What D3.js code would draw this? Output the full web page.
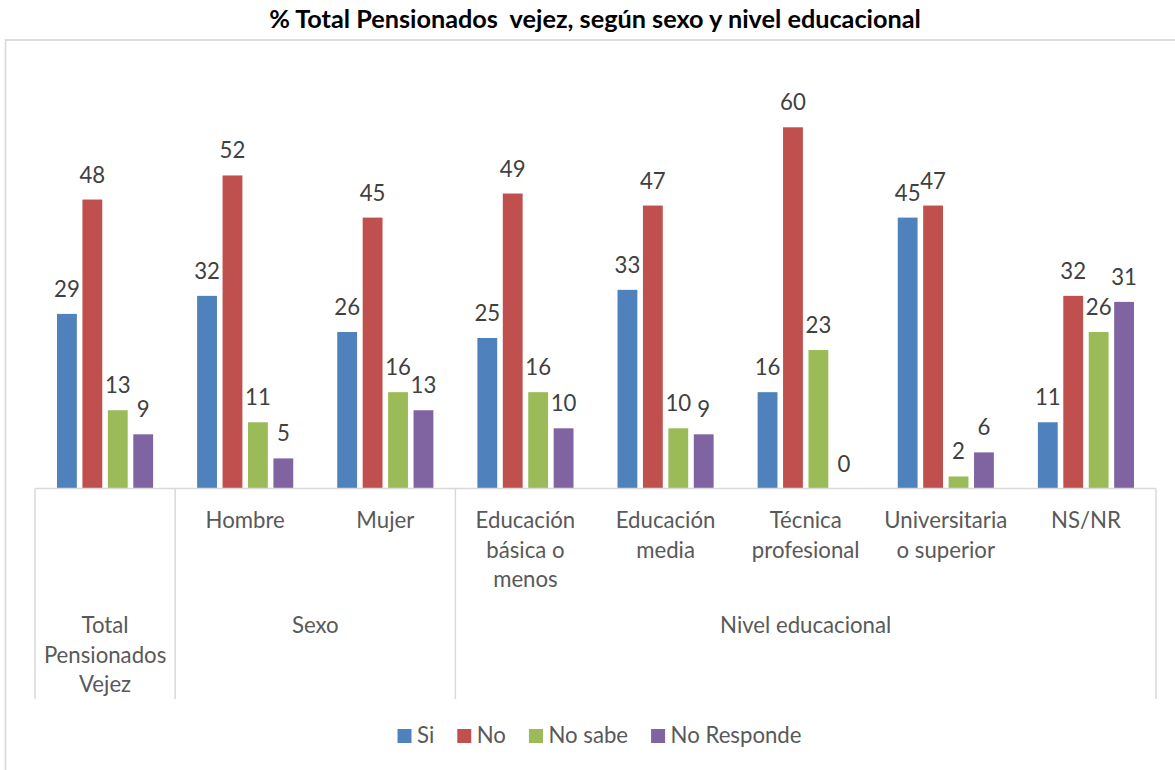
<!DOCTYPE html>
<html>
<head>
<meta charset="utf-8">
<script src="https://cdn.jsdelivr.net/npm/d3@7"></script>
<style>
  html, body { margin: 0; padding: 0; background: #fff; }
  svg { display: block; }
  text { font-family: Lato, "Open Sans", "Liberation Sans", sans-serif; }
</style>
</head>
<body>
<svg id="chart" width="1175" height="770"></svg>
<script>
// ---- data ----
const categories = ["Total Pensionados Vejez", "Hombre", "Mujer", "Educación básica o menos",
  "Educación media", "Técnica profesional", "Universitaria o superior", "NS/NR"];
const categoryLines = [[], ["Hombre"], ["Mujer"], ["Educación", "básica o", "menos"],
  ["Educación", "media"], ["Técnica", "profesional"], ["Universitaria", "o superior"], ["NS/NR"]];
const groupNames = [["Total", "Pensionados", "Vejez"], ["Sexo"], ["Nivel educacional"]];
const groupFirst = [0, 1, 3];
const groupLast = [0, 2, 7];
const seriesNames = ["Si", "No", "No sabe", "No Responde"];
const seriesColors = ["#4F81BD", "#C0504D", "#9BBB59", "#8064A2"];
const si = [29, 32, 26, 25, 33, 16, 45, 11];
const no = [48, 52, 45, 49, 47, 60, 47, 32];
const noSabe = [13, 11, 16, 16, 10, 23, 2, 26];
const noResponde = [9, 5, 13, 10, 9, 0, 6, 31];
const seriesValues = [si, no, noSabe, noResponde];
const title = "% Total Pensionados  vejez, según sexo y nivel educacional";

// ---- layout ----
const svg = d3.select("#chart");
const plotLeft = 35, plotRight = 1156, baseY = 488.5, axisBottom = 699;
const labelColor = "#595959", valueColor = "#404040", gridColor = "#D9D9D9";

// font size fitted to Calibri-like widths
function fitSize(str, targetW, weight) {
  const t = svg.append("text").attr("font-size", 100).attr("font-weight", weight || "normal").text(str);
  const w = t.node().getComputedTextLength();
  t.remove();
  return 100 * targetW / w;
}
const fs = fitSize("Universitaria", 123);
const titleFs = fitSize(title, 646, "bold");

// outer frame (cropped at right & bottom)
svg.append("rect").attr("x", 5.5).attr("y", 40).attr("width", 1200).attr("height", 800)
  .attr("fill", "none").attr("stroke", gridColor).attr("stroke-width", 1.7);

// title
svg.append("text").attr("x", 595).attr("y", 27.5).attr("text-anchor", "middle")
  .attr("font-weight", "bold").attr("font-size", titleFs).attr("fill", "#000")
  .style("white-space", "pre").attr("xml:space", "preserve").text(title);

const x0 = d3.scaleBand().domain(categories).range([plotLeft, plotRight]).padding(0);
const bw = x0.bandwidth();
const x1 = d3.scaleBand().domain(seriesNames).range([0.157 * bw, 0.843 * bw]).paddingInner(0.22);
const y = d3.scaleLinear().domain([0, 60]).range([baseY, 127.3]);

// bars
seriesNames.forEach((s, si_) => {
  const g = svg.append("g");
  const vals = seriesValues[si_];
  g.selectAll("rect").data(categories).join("rect")
    .attr("x", c => x0(c) + x1(s))
    .attr("y", (c, i) => y(vals[i]))
    .attr("width", x1.bandwidth())
    .attr("height", (c, i) => y(0) - y(vals[i]))
    .attr("fill", seriesColors[si_]);
  g.selectAll("text").data(categories).join("text")
    .attr("x", c => x0(c) + x1(s) + x1.bandwidth() / 2)
    .attr("y", (c, i) => y(vals[i]) - 17)
    .attr("text-anchor", "middle").attr("font-size", fs).attr("fill", valueColor)
    .text((c, i) => vals[i]);
});

// axis line
svg.append("line").attr("x1", plotLeft).attr("x2", plotRight).attr("y1", baseY).attr("y2", baseY)
  .attr("stroke", gridColor).attr("stroke-width", 1.5);

// group separators
const sepXs = [x0(categories[0])].concat(groupLast.map(i => x0(categories[i]) + bw));
svg.selectAll("line.sep").data(sepXs).join("line").attr("class", "sep")
  .attr("x1", d => d).attr("x2", d => d).attr("y1", baseY).attr("y2", axisBottom)
  .attr("stroke", gridColor).attr("stroke-width", 1.5);

// category labels (level 1)
const lineH = 29.3;
categories.forEach((c, i) => {
  const t = svg.append("text").attr("x", x0(c) + bw / 2).attr("y", 528.3)
    .attr("text-anchor", "middle").attr("font-size", fs).attr("fill", labelColor);
  categoryLines[i].forEach((ln, k) => {
    t.append("tspan").attr("x", x0(c) + bw / 2).attr("y", 528.3 + k * lineH).text(ln);
  });
});

// group labels (level 2)
groupNames.forEach((lines, gi) => {
  const cx = (x0(categories[groupFirst[gi]]) + x0(categories[groupLast[gi]]) + bw) / 2;
  const t = svg.append("text").attr("text-anchor", "middle").attr("font-size", fs).attr("fill", labelColor);
  lines.forEach((ln, k) => {
    t.append("tspan").attr("x", cx).attr("y", 633.3 + k * lineH).text(ln);
  });
});

// legend
const legend = svg.append("g");
let lx = 0;
const items = [];
seriesNames.forEach((s, i) => {
  const it = legend.append("g");
  it.append("rect").attr("x", 0).attr("y", 729).attr("width", 14).attr("height", 14).attr("fill", seriesColors[i]);
  const t = it.append("text").attr("x", 19.5).attr("y", 743.3).attr("font-size", fs).attr("fill", labelColor).text(s);
  const w = 19.5 + t.node().getComputedTextLength();
  it.attr("transform", `translate(${lx},0)`);
  lx += w + 23;
});
const legW = lx - 23;
legend.attr("transform", `translate(${599.5 - legW / 2},0)`);
</script>
</body>
</html>
